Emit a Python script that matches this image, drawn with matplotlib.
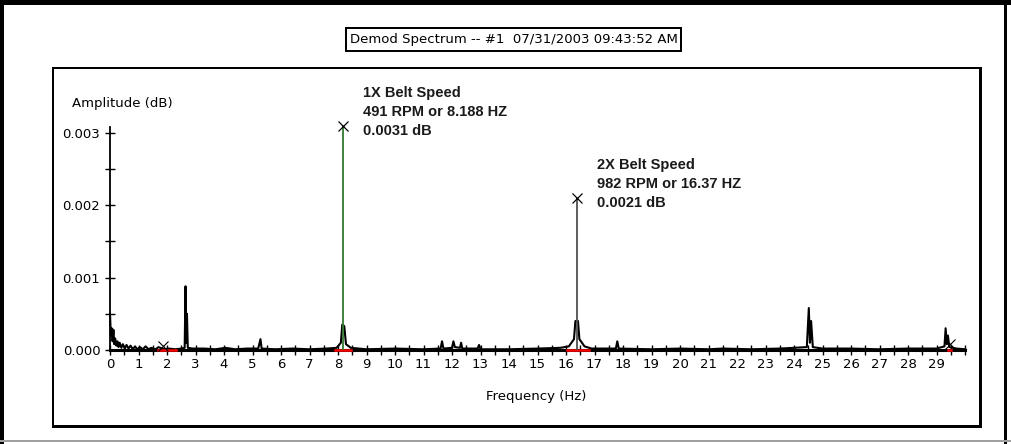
import numpy as np
import matplotlib.pyplot as plt
from matplotlib.patches import Rectangle
from matplotlib.ticker import MultipleLocator, FixedLocator, FuncFormatter

W, H = 1011, 444

# spectrum (Hz, dB)
freq = [0.00, 0.03, 0.06, 0.09, 0.12, 0.15, 0.18, 0.22, 0.26, 0.30, 0.34, 0.40,
        0.45, 0.52, 0.58, 0.65, 0.72, 0.80, 0.88, 0.95, 1.05, 1.15, 1.25, 1.35,
        1.45, 1.60, 1.70, 1.90, 2.05, 2.30, 2.50, 2.62, 2.65, 2.67, 2.70, 2.73,
        2.90, 3.30, 3.70, 4.05, 4.40, 4.80, 5.20, 5.28, 5.32, 5.80, 6.40, 7.00,
        7.60, 7.95, 8.10, 8.15, 8.22, 8.28, 8.45, 9.00, 10.0, 11.0, 11.60, 11.65,
        11.70, 12.00, 12.05, 12.10, 12.28, 12.32, 12.36, 12.90, 12.95, 13.00, 14.0,
        15.0, 15.8, 16.10, 16.28, 16.33, 16.42, 16.47, 16.65, 16.9, 17.75, 17.80,
        17.85, 19.0, 20.0, 21.0, 21.5, 22.5, 23.5, 24.0, 24.45, 24.52, 24.56,
        24.60, 24.66, 25.0, 26.0, 27.0, 28.0, 29.0, 29.28, 29.32, 29.36, 29.40,
        29.45, 29.7, 30.0]
amp = [0.00050, 0.00020, 0.00030, 0.00012, 0.00028, 0.00008, 0.00016, 0.00006,
       0.00012, 0.00004, 0.00010, 0.00003, 0.00008, 0.00002, 0.00007, 0.00002,
       0.00006, 0.00001, 0.00005, 0.00001, 0.00004, 0.00001, 0.00005, 0.00001,
       0.00003, 0.00001, 0.00004, 0.00001, 0.00002, 0.00001, 0.00002, 0.00003,
       0.00088, 0.00010, 0.00050, 0.00003, 0.00002, 0.00002, 0.00001, 0.00003,
       0.00001, 0.00002, 0.00002, 0.00015, 0.00002, 0.00001, 0.00002, 0.00001,
       0.00002, 0.00003, 0.00010, 0.00035, 0.00033, 0.00008, 0.00003, 0.00001,
       0.00002, 0.00001, 0.00002, 0.00012, 0.00002, 0.00003, 0.00012, 0.00004,
       0.00003, 0.00010, 0.00002, 0.00002, 0.00007, 0.00001, 0.00001, 0.00002,
       0.00003, 0.00005, 0.00015, 0.00040, 0.00040, 0.00015, 0.00005, 0.00002,
       0.00002, 0.00012, 0.00002, 0.00001, 0.00002, 0.00001, 0.00002, 0.00001,
       0.00002, 0.00003, 0.00004, 0.00058, 0.00010, 0.00040, 0.00004, 0.00002,
       0.00002, 0.00001, 0.00002, 0.00002, 0.00005, 0.00030, 0.00008, 0.00020,
       0.00004, 0.00002, 0.00001]

# belt speed peaks
peak_freq = [8.188, 16.37]
peak_amp = [0.0031, 0.0021]
peak_labels = [["1X Belt Speed", "491 RPM or 8.188 HZ", "0.0031 dB"],
               ["2X Belt Speed", "982 RPM or 16.37 HZ", "0.0021 dB"]]
peak_colors = ["#2e7a2e", "#505050"]

# small cursor marks and red harmonic bands on the axis
cursor_freq = [1.86, 29.48]
cursor_amp = [0.00005, 0.00008]
bands = [(1.7, 2.3), (7.9, 8.45), (16.05, 16.8), (29.4, 29.52)]

title = "Demod Spectrum -- #1  07/31/2003 09:43:52 AM"
narrow = ["Liberation Sans Narrow", "DejaVu Sans"]

fig = plt.figure(figsize=(W / 100, H / 100), dpi=100)


def px_rect(x0, y0, x1, y1, color):
    # rectangle given in pixel coords with origin top-left
    fig.add_artist(Rectangle((x0 / W, 1 - y1 / H), (x1 - x0) / W, (y1 - y0) / H,
                             transform=fig.transFigure, color=color, lw=0))


# outer frame
px_rect(0, 0, W, 5, "black")
px_rect(0, 0, 4, H, "black")
px_rect(1004, 0, 1007, H, "black")
px_rect(0, 440, W, 442, "#a0a0a0")

# inner plot box
px_rect(52, 67, 982, 69, "black")
px_rect(52, 67, 54, 428, "black")
px_rect(979, 67, 982, 428, "black")
px_rect(52, 425, 982, 428, "black")

# title box
px_rect(345, 27, 682, 52, "black")
px_rect(347, 29, 680, 50, "white")
fig.text(513.5 / W, 1 - 39.5 / H, title, ha="center", va="center",
         fontsize=9.5, family=narrow)

ax = fig.add_axes([110 / W, 1 - 350 / H, 855 / W, 223 / H])
ax.set_xlim(0, 30)
ax.set_ylim(0, 0.00308)
for s in ["top", "right"]:
    ax.spines[s].set_visible(False)
ax.spines["left"].set_linewidth(1.3)
ax.spines["bottom"].set_linewidth(2.2)

ax.plot(freq, amp, color="black", lw=1.5, clip_on=False, zorder=3)

for f0, f1 in bands:
    ax.plot([f0, f1], [0, 0], color="red", lw=1.8, clip_on=False, zorder=4)

for f, a, c, lab in zip(peak_freq, peak_amp, peak_colors, peak_labels):
    ax.vlines(f, 0, a, color=c, lw=1.3, zorder=5, clip_on=False)
    ax.plot(f, a, marker="x", color="black", ms=7, mew=0.9, clip_on=False, zorder=6)
    for i, line in enumerate(lab):
        ax.annotate(line, (f, a), xytext=(20, 33 - 19 * i), textcoords="offset pixels",
                    ha="left", va="center", fontsize=10.5, fontweight="bold",
                    family=["Liberation Sans", "DejaVu Sans"], color="#1a1a1a",
                    annotation_clip=False)

ax.plot(cursor_freq, cursor_amp, "x", color="black", ms=7, mew=0.8,
        clip_on=False, zorder=6)

ax.xaxis.set_major_locator(FixedLocator(np.arange(0, 30)))
ax.xaxis.set_minor_locator(MultipleLocator(0.5))
ax.yaxis.set_major_locator(FixedLocator([0, 0.001, 0.002, 0.003]))
ax.yaxis.set_minor_locator(FixedLocator([0.0005, 0.0015, 0.0025]))
ax.yaxis.set_major_formatter(FuncFormatter(lambda v, p: f"{v:.3f}"))
ax.tick_params(which="both", direction="inout", length=7, width=1, color="black")
ax.tick_params(axis="x", which="major", pad=2)
for lbl in ax.get_xticklabels() + ax.get_yticklabels():
    lbl.set_family(narrow)
    lbl.set_fontsize(9.5)

fig.text(72 / W, 1 - 103 / H, "Amplitude (dB)", ha="left", va="center",
         fontsize=9.5, family=narrow)
fig.text(536 / W, 1 - 396 / H, "Frequency (Hz)", ha="center", va="center",
         fontsize=9.5, family=narrow)

fig.savefig("out.png", dpi=100)
